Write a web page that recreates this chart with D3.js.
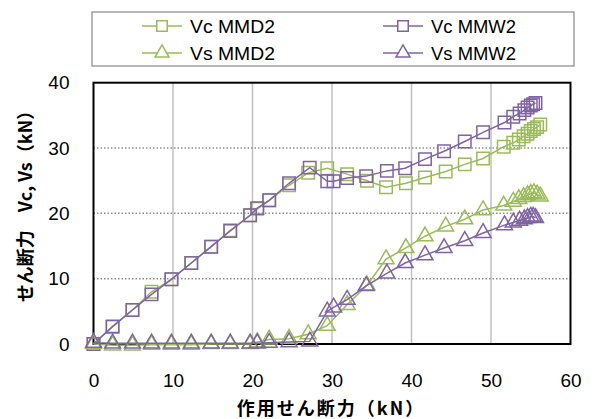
<!DOCTYPE html>
<html>
<head>
<meta charset="utf-8">
<script src="https://cdn.jsdelivr.net/npm/d3@7"></script>
<style>
    body { margin: 0; background: white; }
    text { font-family: 'Liberation Sans', Arial, 'Noto Sans CJK JP', sans-serif; }
    .jp { font-family: 'Noto Sans CJK JP', sans-serif; font-weight: bold; }
</style>
</head>
<body>
<div id="chart"></div>
<script>
let xD2 = [0, 2.4, 4.9, 7.3, 9.8, 12.3, 14.8, 17.2, 19.7, 20.6, 22.1, 24.6, 27.0, 29.4, 31.9, 34.4,
    36.8, 39.3, 41.7, 44.3, 46.7, 49.0, 51.6, 52.8, 53.5, 54.1, 54.6, 55.0, 55.4, 55.8, 56.2]
let vcD2 = [0, 2.6, 5.2, 8.0, 9.9, 12.4, 14.9, 17.4, 19.7, 20.7, 22.0, 24.3, 26.2, 26.9, 26.0, 25.0,
    24.0, 24.6, 25.5, 26.4, 27.5, 28.4, 30.2, 30.8, 31.3, 31.8, 32.2, 32.6, 32.9, 33.2, 33.6]
let vsD2 = [0, -0.2, -0.2, -0.1, -0.1, -0.1, 0, 0, 0, 0.3, 0.7, 0.8, 1.5, 2.8, 6.0, 9.0,
    13.0, 14.7, 16.5, 18.0, 19.1, 20.5, 21.2, 21.8, 22.2, 22.5, 22.8, 23.0, 23.1, 22.9, 22.6]

let xW2 = [0, 2.4, 4.9, 7.3, 9.8, 12.3, 14.8, 17.2, 19.7, 20.6, 22.1, 24.6, 27.2, 29.4, 30.2, 31.9,
    34.3, 36.9, 39.2, 41.7, 44.1, 46.7, 49.0, 51.7, 52.8, 53.6, 54.2, 54.6, 55.0, 55.3, 55.6]
let vcW2 = [0, 2.7, 5.2, 7.6, 9.9, 12.4, 14.9, 17.3, 19.7, 20.8, 22.0, 24.6, 27.0, 24.9, 24.9, 25.4,
    25.7, 26.5, 26.9, 28.3, 29.5, 31.0, 32.4, 33.9, 34.8, 35.3, 35.8, 36.2, 36.5, 36.7, 36.9]
let vsW2 = [0.2, 0.1, 0.1, 0.1, 0.1, 0.1, 0.1, 0.1, 0.1, 0.1, 0.2, 0.3, 0.4, 5.0, 5.6, 6.8,
    8.9, 10.8, 12.4, 13.6, 14.7, 15.8, 17.0, 18.2, 18.6, 18.9, 19.1, 19.3, 19.5, 19.5, 19.3]

let seriesNames = ['Vc MMD2', 'Vc MMW2', 'Vs MMD2', 'Vs MMW2']
let xTicks = [0, 10, 20, 30, 40, 50, 60]
let yTicks = [0, 10, 20, 30, 40]

let green = '#9bbb59'
let purple = '#8064a2'

let series = [
    {name: seriesNames[0], x: xD2, y: vcD2, color: green, shape: d3.symbolSquare},
    {name: seriesNames[1], x: xW2, y: vcW2, color: purple, shape: d3.symbolSquare},
    {name: seriesNames[2], x: xD2, y: vsD2, color: green, shape: d3.symbolTriangle},
    {name: seriesNames[3], x: xW2, y: vsW2, color: purple, shape: d3.symbolTriangle}
]

let svg = d3.select('#chart').append('svg').attr('width', 594).attr('height', 419)

let x = d3.scaleLinear().domain([0, 60]).range([93.5, 570.5])
let y = d3.scaleLinear().domain([0, 40]).range([344, 82.7])

// grid
svg.append('g').selectAll('line').data(xTicks.slice(1, -1)).join('line')
    .attr('x1', d => x(d)).attr('x2', d => x(d))
    .attr('y1', y(0)).attr('y2', y(40))
    .attr('stroke', '#c0c0c0').attr('stroke-width', 1.5)
svg.append('g').selectAll('line').data(yTicks.slice(1, -1)).join('line')
    .attr('x1', x(0)).attr('x2', x(60))
    .attr('y1', d => y(d)).attr('y2', d => y(d))
    .attr('stroke', '#8c8c8c').attr('stroke-width', 1.5).attr('stroke-dasharray', '1.5,2')

svg.append('rect')
    .attr('x', x(0)).attr('y', y(40))
    .attr('width', x(60) - x(0)).attr('height', y(0) - y(40))
    .attr('fill', 'none').attr('stroke', 'black').attr('stroke-width', 2)

let xAxis = svg.append('g').attr('transform', `translate(0, ${y(0)})`)
    .call(d3.axisBottom(x).tickValues(xTicks).tickSize(0).tickPadding(30))
let yAxis = svg.append('g').attr('transform', `translate(${x(0)}, 0)`)
    .call(d3.axisLeft(y).tickValues(yTicks).tickSize(0).tickPadding(24))
xAxis.select('.domain').remove()
yAxis.select('.domain').remove()
svg.selectAll('.tick text').style('font-size', '19px').attr('fill', 'black')
    .style('font-family', "'Liberation Sans', Arial, sans-serif")

let line = d3.line()

series.forEach(s => {
    let pts = s.x.map((d, i) => [x(d), y(s.y[i])])
    svg.append('path')
        .attr('d', line(pts))
        .attr('fill', 'none').attr('stroke', s.color).attr('stroke-width', 1.5)
    svg.append('g').selectAll('path').data(pts).join('path')
        .attr('transform', d => `translate(${d[0]}, ${d[1]})`)
        .attr('d', d3.symbol().type(s.shape).size(s.shape === d3.symbolSquare ? 155 : 110))
        .attr('fill', 'none').attr('stroke', s.color).attr('stroke-width', 1.5)
})

// legend
let legend = svg.append('g')
legend.append('rect')
    .attr('x', 92).attr('y', 12).attr('width', 482).attr('height', 54)
    .attr('fill', 'white').attr('stroke', '#888').attr('stroke-width', 1.2)

let legendPos = [[142, 26], [383, 26], [142, 53], [383, 53]]
series.forEach((s, i) => {
    let g = legend.append('g').attr('transform', `translate(${legendPos[i][0]}, ${legendPos[i][1]})`)
    g.append('line').attr('x1', 0).attr('x2', 40).attr('stroke', s.color).attr('stroke-width', 1.5)
    g.append('path')
        .attr('transform', 'translate(20, 0)')
        .attr('d', d3.symbol().type(s.shape).size(s.shape === d3.symbolSquare ? 110 : 85))
        .attr('fill', 'white').attr('stroke', s.color).attr('stroke-width', 1.5)
    g.append('text').attr('x', 48).attr('y', 7)
        .style('font-size', '18px')
        .attr('textLength', 85).attr('lengthAdjust', 'spacingAndGlyphs')
        .text(s.name)
})

svg.append('text').attr('class', 'jp')
    .attr('x', 331).attr('y', 415)
    .attr('text-anchor', 'middle')
    .style('font-size', '18px').style('letter-spacing', '2px')
    .text('作用せん断力（kN）')

svg.append('text').attr('class', 'jp')
    .attr('transform', 'translate(32, 202) rotate(-90)')
    .attr('text-anchor', 'middle')
    .style('font-size', '18px')
    .text('せん断力　Vc, Vs（kN）')
</script>
</body>
</html>
